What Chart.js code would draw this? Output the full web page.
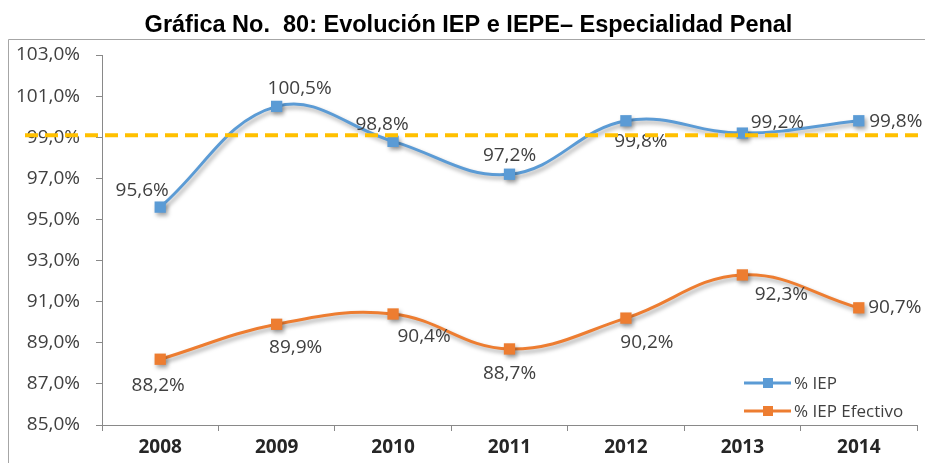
<!DOCTYPE html>
<html>
<head>
<meta charset="utf-8">
<script src="https://cdn.jsdelivr.net/npm/chart.js@4.4.1/dist/chart.umd.min.js"></script>
<style>
  html, body { margin: 0; padding: 0; background: #fff; }
  #wrap { position: relative; width: 925px; height: 463px; }
</style>
</head>
<body>
<div id="wrap"><canvas id="chart"></canvas></div>
<script>
const years = ['2008', '2009', '2010', '2011', '2012', '2013', '2014']
const iep = [95.6, 100.5, 98.8, 97.2, 99.8, 99.2, 99.8]
const iepEfectivo = [88.2, 89.9, 90.4, 88.7, 90.2, 92.3, 90.7]
const referencia = 99.1
const yMin = 85
const yMax = 103
const yStep = 2

// where each value label sits relative to its marker (dx, dy)
const iepLabelPos = [[-18, -17], [23, -18], [-11, -17], [0, -19], [15, 21], [35, -11], [37, 1]]
const iepeLabelPos = [[-2, 26], [19, 23], [31, 23], [0, 25], [21, 24], [39, 20], [36, 0]]

const BLUE = '#5B9BD5'
const ORANGE = '#ED7D31'
const GOLD = '#FFC000'
const TEXT = '#404040'
const AXIS = '#898989'
const FONT = "'Open Sans', sans-serif"

const pct = v => v.toFixed(1).replace('.', ',') + '%'

// gray frame around the plot area
const framePlugin = {
  id: 'frame',
  beforeDraw(chart) {
    const ctx = chart.ctx
    ctx.save()
    ctx.strokeStyle = '#a6a6a6'
    ctx.lineWidth = 1
    ctx.beginPath()
    ctx.moveTo(8.5, chart.height)
    ctx.lineTo(8.5, 39.5)
    ctx.lineTo(chart.width, 39.5)
    ctx.stroke()
    ctx.restore()
  }
}

// soft drop shadow under lines and markers
const shadowPlugin = {
  id: 'shadow',
  beforeDatasetDraw(chart) {
    const ctx = chart.ctx
    ctx.save()
    ctx.shadowColor = 'rgba(0, 0, 0, 0.35)'
    ctx.shadowBlur = 4
    ctx.shadowOffsetX = 2
    ctx.shadowOffsetY = 3
  },
  afterDatasetDraw(chart) {
    chart.ctx.restore()
  }
}

// value labels next to the markers
const valueLabels = {
  id: 'valueLabels',
  afterDatasetsDraw(chart) {
    const ctx = chart.ctx
    const positions = [iepLabelPos, iepeLabelPos]
    ctx.save()
    ctx.font = '19px ' + FONT
    ctx.fillStyle = TEXT
    ctx.textAlign = 'center'
    ctx.textBaseline = 'middle'
    chart.data.datasets.forEach((ds, i) => {
      const meta = chart.getDatasetMeta(i)
      meta.data.forEach((pt, j) => {
        const [dx, dy] = positions[i][j]
        ctx.fillText(pct(ds.data[j]), pt.x + dx, pt.y + dy)
      })
    })
    ctx.restore()
  }
}

// legend in the lower right corner of the plot
const cornerLegend = {
  id: 'cornerLegend',
  afterDatasetsDraw(chart) {
    const ctx = chart.ctx
    const area = chart.chartArea
    const x0 = area.right - 173
    const rows = [area.bottom - 42, area.bottom - 14]
    ctx.save()
    ctx.font = '17px ' + FONT
    ctx.textBaseline = 'middle'
    chart.data.datasets.forEach((ds, i) => {
      const y = rows[i]
      ctx.strokeStyle = ds.borderColor
      ctx.lineWidth = 3
      ctx.beginPath()
      ctx.moveTo(x0, y)
      ctx.lineTo(x0 + 47, y)
      ctx.stroke()
      ctx.fillStyle = ds.borderColor
      ctx.fillRect(x0 + 19, y - 5, 10, 10)
      ctx.fillStyle = TEXT
      ctx.fillText(ds.label, x0 + 50, y + 1)
    })
    ctx.restore()
  }
}

// dashed reference line across the whole frame
const refLine = {
  id: 'refLine',
  afterDraw(chart) {
    const ctx = chart.ctx
    const y = chart.scales.y.getPixelForValue(referencia)
    ctx.save()
    ctx.strokeStyle = GOLD
    ctx.lineWidth = 4
    ctx.setLineDash([13, 7])
    ctx.beginPath()
    ctx.moveTo(25, y)
    ctx.lineTo(chart.width, y)
    ctx.stroke()
    ctx.restore()
  }
}

const ctx = document.getElementById('chart').getContext('2d')

new Chart(ctx, {
  type: 'line',
  data: {
    labels: years,
    datasets: [{
      label: '% IEP',
      data: iep,
      borderColor: BLUE,
      backgroundColor: BLUE,
      borderWidth: 3,
      tension: 0.4,
      pointStyle: 'rect',
      pointRadius: 8,
      pointBackgroundColor: BLUE,
      pointBorderColor: BLUE,
      pointBorderWidth: 0
    }, {
      label: '% IEP Efectivo',
      data: iepEfectivo,
      borderColor: ORANGE,
      backgroundColor: ORANGE,
      borderWidth: 3,
      tension: 0.4,
      pointStyle: 'rect',
      pointRadius: 8,
      pointBackgroundColor: ORANGE,
      pointBorderColor: ORANGE,
      pointBorderWidth: 0
    }]
  },
  options: {
    responsive: true,
    maintainAspectRatio: false,
    animation: false,
    layout: {
      padding: { left: 15, right: 3, top: 0, bottom: 0 }
    },
    plugins: {
      legend: { display: false },
      tooltip: { enabled: false },
      title: {
        display: true,
        text: 'Gráfica No.  80: Evolución IEP e IEPE– Especialidad Penal',
        color: '#000',
        font: { family: "'Liberation Sans', Arial, sans-serif", size: 23.5, weight: 'bold', lineHeight: 1.2 },
        padding: { top: 11, bottom: 15.8 }
      }
    },
    scales: {
      x: {
        offset: true,
        grid: {
          offset: true,
          drawOnChartArea: false,
          drawTicks: true,
          tickLength: 6,
          color: AXIS
        },
        border: { color: AXIS, width: 1 },
        ticks: {
          color: '#262626',
          padding: 5,
          maxRotation: 0,
          font: { family: FONT, size: 19, weight: 'bold' }
        },
        afterFit(scale) { scale.height = 38 }
      },
      y: {
        min: yMin,
        max: yMax,
        grid: {
          drawOnChartArea: false,
          drawTicks: true,
          tickLength: 6,
          color: AXIS
        },
        border: { color: AXIS, width: 1 },
        ticks: {
          stepSize: yStep,
          color: TEXT,
          padding: 16,
          font: { family: FONT, size: 19 },
          callback: value => pct(value)
        },
        afterFit(scale) { scale.width = 87 }
      }
    }
  },
  plugins: [framePlugin, shadowPlugin, valueLabels, cornerLegend, refLine]
})
</script>
</body>
</html>
